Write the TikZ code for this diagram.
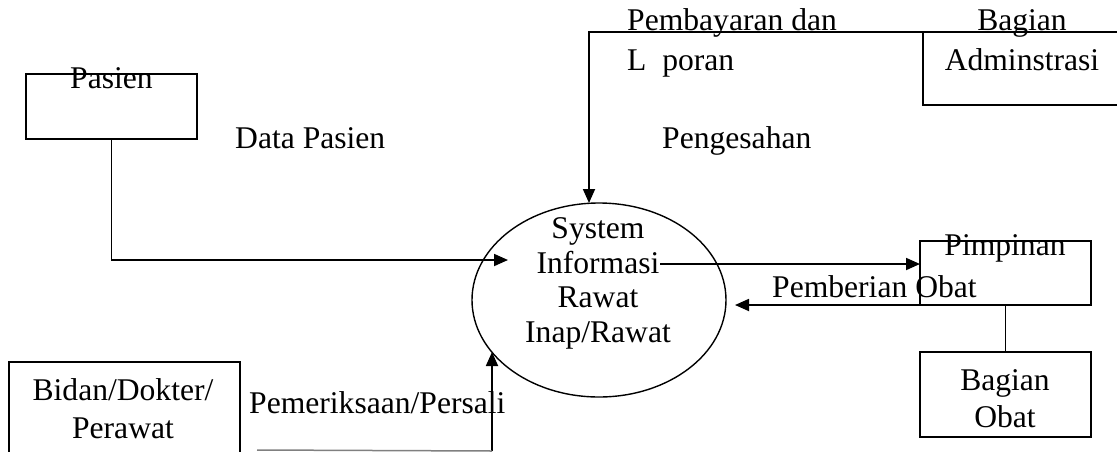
\documentclass[tikz,border=0pt]{standalone}
\usepackage{fontspec}
\setmainfont{Liberation Serif}
\usepackage{tikz}
\usetikzlibrary{arrows.meta,calc,shapes.geometric}

\begin{document}
\begin{tikzpicture}[x=1pt,y=-1pt,
    kotak/.style={draw, rectangle, line width=1.8pt, inner sep=0pt, outer sep=0pt},
    teks/.style={font=\fontsize{31.6}{34.5}\selectfont, inner sep=0pt, align=center},
    longgar/.style={font=\fontsize{31.6}{#1}\selectfont},
    alir/.style={line width=1.8pt, -{Triangle[length=14pt,width=12pt]}}]
    %%Batas gambar
    \path[use as bounding box, clip] (0,0) rectangle (1117,451);
    %%Entitas
    \node[kotak, minimum width=171pt, minimum height=65pt] (pasien) at (111.5,106.5) {};
    \node[kotak, minimum width=231pt, minimum height=110pt] (bidan) at (124.5,417) {};
    \node[kotak, minimum width=217pt, minimum height=73pt] (admin) at (1031.5,68.5) {};
    \node[kotak, minimum width=171pt, minimum height=64pt] (pimpinan) at (1005.5,273) {};
    \node[kotak, minimum width=171pt, minimum height=85pt] (obat) at (1005.5,394.5) {};
    \node[draw, ellipse, line width=1.4pt, minimum width=254pt, minimum height=194pt] (sistem) at (599,300) {};
    %%Teks entitas (base = baris terakhir)
    \node[teks, anchor=base] (pasientxt) at (111.5,88) {Pasien};
    \node[teks, longgar=38, anchor=base] (bidantxt) at (123,438) {Bidan/Dokter/\\Perawat};
    \node[teks, longgar=40, anchor=base] (admintxt) at (1022,70) {Bagian\\Adminstrasi};
    \node[teks, anchor=base] (pimpinantxt) at (1005,255) {Pimpinan};
    \node[teks, longgar=37, anchor=base] (obattxt) at (1005,427) {Bagian\\Obat};
    \node[teks, anchor=base] (sistemtxt) at (598,342) {System\\Informasi\\Rawat\\Inap/Rawat};
    %%Label aliran
    \node[teks, anchor=base west] (datapasien) at (235,148) {Data Pasien};
    \node[teks, longgar=40, anchor=base west, align=left] (bayar) at (627,70) {Pembayaran dan\\L\ \ poran};
    \node[teks, anchor=base west] (sah) at (662,148) {Pengesahan};
    \node[teks, anchor=base west] (beri) at (772,297) {Pemberian Obat};
    \node[teks, anchor=base west] (periksa) at (249,413) {Pemeriksaan/Persali};
    %%Titik ujung
    \coordinate (datain) at (508,260);
    \coordinate (bayarin) at (589,203);
    \coordinate (infoend) at (660,264);
    \coordinate (beriin) at (735,305);
    \coordinate (periksain) at (492,352);
    \coordinate (periksaawal) at (492,451);
    \coordinate (bidanline) at (257,450);
    %%Aliran data
    \draw[alir] (pasien.south) |- (datain);
    \draw[alir] (admin.north west) -| (bayarin);
    \draw[alir] (infoend) -- (infoend -| pimpinan.west);
    \draw[line width=1.8pt] (obat.north) -- (pimpinan.south);
    \draw[alir] (pimpinan.south) -- (beriin);
    \draw[alir] (periksaawal) -- (periksain);
    \draw[gray, line width=1.5pt] (bidanline) -- (periksaawal);
\end{tikzpicture}
\end{document}
